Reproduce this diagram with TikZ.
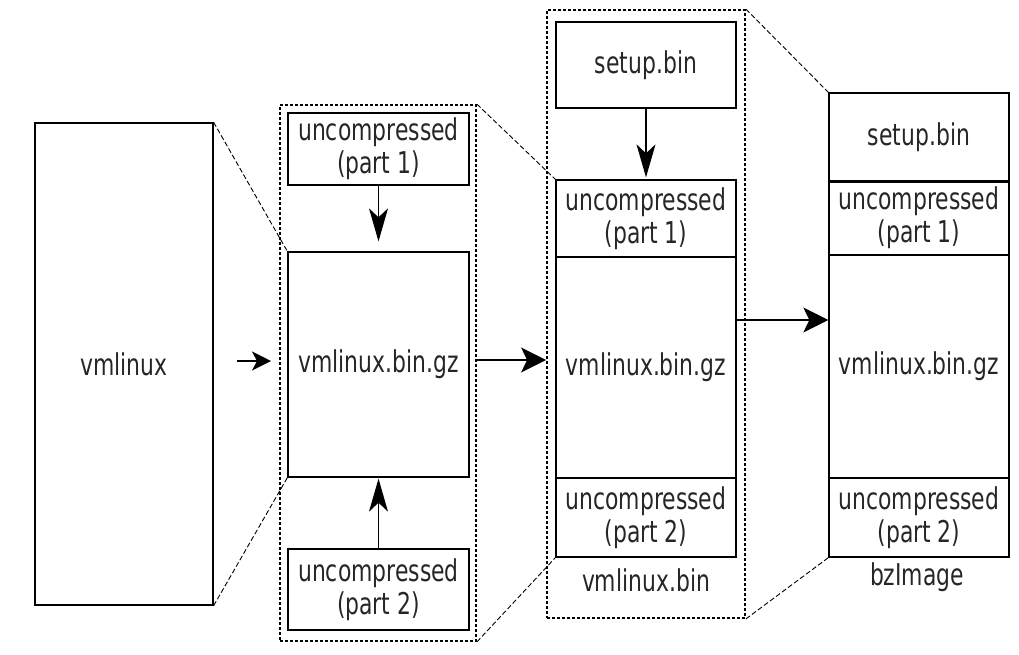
\documentclass[tikz,border=0pt]{standalone}
\usepackage{fontspec}
\setmainfont{DejaVu Sans}[FakeStretch=0.73]
\usetikzlibrary{arrows.meta}
\begin{document}
\begin{tikzpicture}[x=1pt,y=-1pt,
  blk/.style={draw, line width=1.3pt, inner sep=0pt, align=center, text=black!85,
    font=\fontsize{30}{33}\selectfont},
  lbl/.style={inner sep=0pt, text=black!85, font=\fontsize{30}{33}\selectfont},
  grp/.style={draw, line width=1.8pt, dash pattern=on 3pt off 2pt, inner sep=0pt},
  lnk/.style={line width=0.9pt, dash pattern=on 5pt off 2.5pt},
  harr/.style={line width=1.3pt, -{Stealth[length=25pt,width=25pt,inset=6pt]}},
  sarr/.style={line width=1.3pt, -{Stealth[length=19pt,width=19pt,inset=5pt]}},
  varr/.style={line width=1.3pt, -{Stealth[length=33pt,width=19pt,inset=9pt]}},
]
\useasboundingbox (0,0) rectangle (1019,654);
% vmlinux
\node[blk, minimum width=178pt, minimum height=482pt] (vm) at (124,364) {vmlinux};
% group 1
\node[grp, minimum width=196pt, minimum height=536pt] (box1) at (378,373) {};
\node[blk, minimum width=181pt, minimum height=72pt] (b1u1) at (378.5,149) {uncompressed\\(part 1)};
\node[blk, minimum width=181pt, minimum height=225pt] (b1gz) at (378.5,364.5) {vmlinux.bin.gz};
\node[blk, minimum width=181pt, minimum height=81pt] (b1u2) at (378.5,589.5) {uncompressed\\(part 2)};
% group 2
\node[grp, minimum width=198pt, minimum height=608pt] (box2) at (646,314) {};
\node[blk, minimum width=180pt, minimum height=86pt] (b2s) at (646,65) {setup.bin};
\node[blk, minimum width=180pt, minimum height=77pt] (b2u1) at (646,218.5) {uncompressed\\(part 1)};
\node[blk, minimum width=180pt, minimum height=221pt] (b2gz) at (646,367.5) {vmlinux.bin.gz};
\node[blk, minimum width=180pt, minimum height=79pt] (b2u2) at (646,517.5) {uncompressed\\(part 2)};
\node[lbl] (lb2) at (646,580) {vmlinux.bin};
% bzImage
\node[blk, minimum width=180pt, minimum height=88pt] (bzs) at (919,137) {setup.bin};
\node[blk, minimum width=180pt, minimum height=74pt] (bzu1) at (919,218) {uncompressed\\(part 1)};
\node[blk, minimum width=180pt, minimum height=223pt] (bzgz) at (919,366.5) {vmlinux.bin.gz};
\node[blk, minimum width=180pt, minimum height=79pt] (bzu2) at (919,517.5) {uncompressed\\(part 2)};
\node[lbl] (lbz) at (917,577) {bzImage};
\draw[line width=3pt] (bzs.south west) -- (bzs.south east);
% dashed links
\draw[lnk] (vm.north east) -- (b1gz.north west);
\draw[lnk] (vm.south east) -- (b1gz.south west);
\draw[lnk] (box1.north east) -- (b2u1.north west);
\draw[lnk] (box1.south east) -- (b2u2.south west);
\draw[lnk] (box2.north east) -- (bzs.north west);
\draw[lnk] (box2.south east) -- (bzu2.south west);
% arrows
\coordinate (s0) at (237,361);
\coordinate (t0) at (271,361);
\draw[sarr] (s0) -- (t0);
\coordinate (y1) at (0,360);
\draw[harr] (box1.east |- y1) -- (box2.west |- y1);
\coordinate (y2) at (0,320);
\draw[harr] (b2gz.east |- y2) -- (bzgz.west |- y2);
\draw[varr, shorten >=10pt] (b1u1.south) -- (b1gz.north);
\draw[varr, shorten >=1pt] (b1u2.north) -- (b1gz.south);
\draw[varr, shorten >=2pt] (b2s.south) -- (b2u1.north);
\end{tikzpicture}
\end{document}
